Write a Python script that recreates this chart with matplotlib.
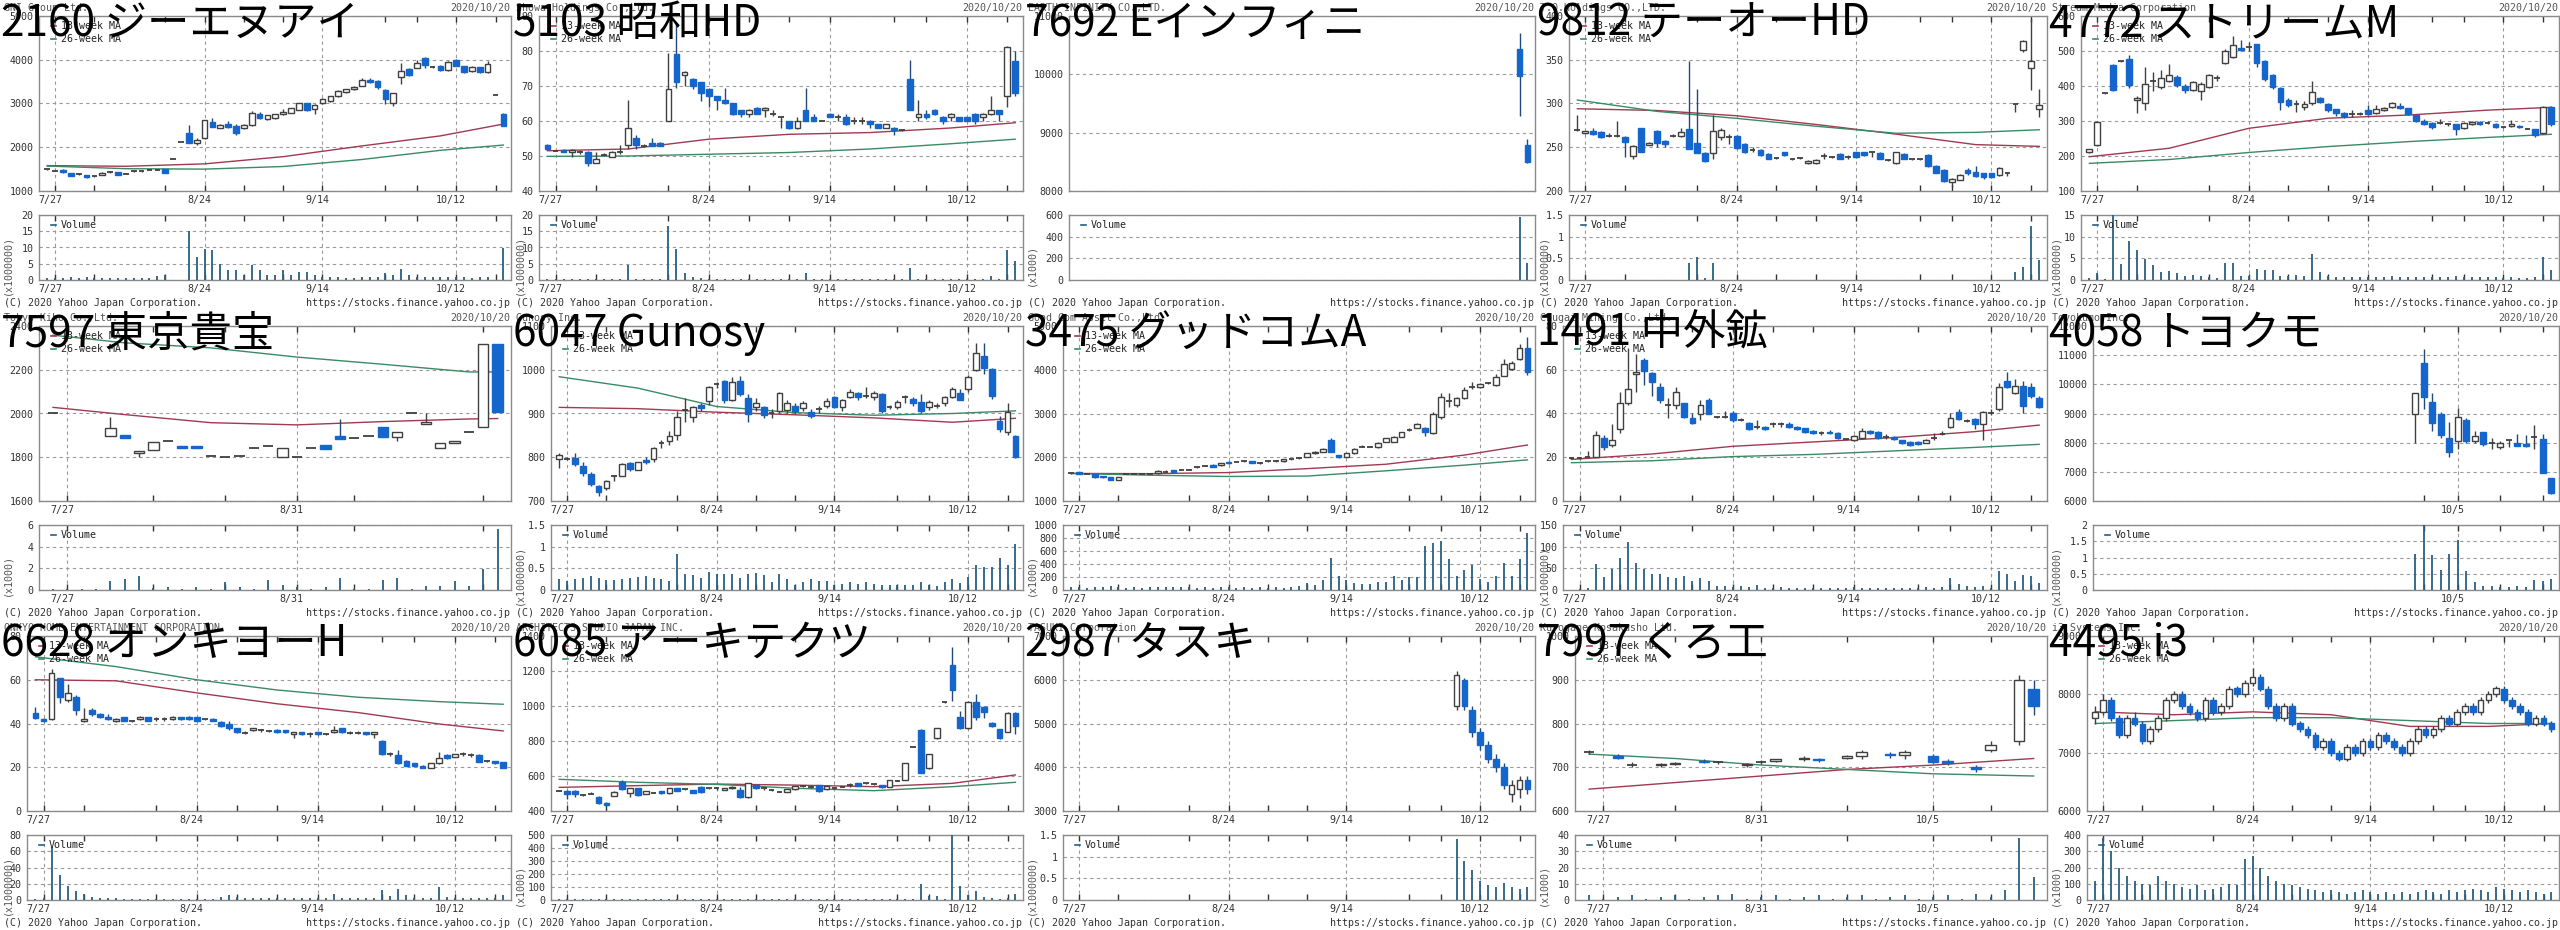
# -*- coding: utf-8 -*-
import matplotlib
matplotlib.use('Agg')
import matplotlib.pyplot as plt
from matplotlib.patches import Rectangle
from matplotlib.lines import Line2D

plt.rcParams['font.family'] = ['DejaVu Sans Mono']

FIG_W, FIG_H = 2560, 930
CELL_W, CELL_H = 512, 310

BLUE = '#1466cc'
UP_EDGE = '#404040'
DOWN_WICK = '#24487a'
MA13_COL = '#a03a50'
MA26_COL = '#3a8a66'
GRID_COL = '#9a9a9a'
SPINE_COL = '#8a8a8a'
VOL_COL = '#2a5f82'
TXT = '#333333'

# 取引日スロット 7/22 .. 10/20 (10/1 は売買停止で除外)
std_days = list(range(59))
std_dates = [(1, '7/27'), (20, '8/24'), (35, '9/14'), (52, '10/12')]
std_weeks = [1, 6, 15, 20, 25, 30, 35, 43, 47, 52, 57]
ma_days = [0, 10, 20, 30, 40, 50, 58]

# ========== 2160 ジーエヌアイ ==========
gni_ohlc = [
    (1495, 1510, 1480, 1495), (1465, 1470, 1460, 1465), (1480, 1500, 1420, 1430), (1400, 1410, 1340, 1350),
    (1390, 1400, 1370, 1390), (1360, 1370, 1300, 1310), (1340, 1350, 1320, 1340), (1370, 1440, 1360, 1420),
    (1425, 1450, 1410, 1425), (1425, 1440, 1360, 1370), (1395, 1400, 1380, 1395), (1450, 1470, 1430, 1450),
    (1450, 1460, 1440, 1450), (1480, 1490, 1470, 1480), (1490, 1495, 1485, 1490), (1500, 1510, 1410, 1420),
    (1720, 1720, 1720, 1720), (2130, 2130, 2130, 2130), (2320, 2510, 2090, 2100), (2100, 2220, 2060, 2170),
    (2200, 2630, 2180, 2620), (2570, 2670, 2460, 2470), (2450, 2530, 2430, 2500), (2520, 2600, 2440, 2460),
    (2490, 2520, 2280, 2330), (2440, 2530, 2420, 2500), (2500, 2830, 2490, 2790), (2770, 2800, 2640, 2660),
    (2640, 2740, 2630, 2730), (2660, 2760, 2650, 2750), (2750, 2880, 2740, 2800), (2790, 2900, 2780, 2890),
    (2860, 3010, 2850, 3000), (3000, 3010, 2830, 2840), (2870, 2990, 2770, 2970), (3000, 3120, 2990, 3100),
    (3050, 3170, 3040, 3160), (3160, 3300, 3150, 3290), (3260, 3330, 3250, 3320), (3320, 3400, 3310, 3380),
    (3410, 3580, 3400, 3540), (3540, 3590, 3460, 3480), (3510, 3530, 3330, 3370), (3310, 3340, 2990, 3100),
    (3020, 3240, 2940, 3230), (3600, 3920, 3440, 3740), (3780, 3800, 3630, 3640), (3820, 4000, 3800, 3920),
    (4050, 4060, 3820, 3880), (3840, 3860, 3800, 3840), (3860, 3880, 3740, 3760), (3760, 3960, 3740, 3950),
    (4000, 4010, 3850, 3860), (3850, 3860, 3690, 3710), (3740, 3860, 3720, 3840), (3830, 3840, 3690, 3720),
    (3720, 3970, 3700, 3900), (3190, 3190, 3190, 3190), (2770, 2790, 2480, 2490)]
gni_vol = [0.5, 0.6, 0.7, 0.8, 0.6, 0.8, 0.5, 0.7, 0.6, 0.7, 0.5, 0.6, 0.7, 0.5, 1.2, 1.5, 0, 0, 15.0, 7.0,
           9.5, 9.3, 5.0, 3.2, 3.2, 1.5, 4.5, 3.2, 1.5, 1.5, 3.0, 1.5, 2.5, 2.5, 1.5, 1.0, 1.0, 0.8, 0.7, 0.7,
           0.8, 0.9, 0.8, 2.0, 1.5, 3.3, 1.5, 1.0, 0.9, 0.9, 0.8, 0.8, 1.0, 0.8, 0.7, 0.8, 1.0, 0, 9.8]
gni_ma13 = [1580, 1565, 1620, 1785, 2030, 2260, 2530]
gni_ma26 = [1570, 1510, 1500, 1560, 1720, 1930, 2050]

# ========== 5103 昭和HD ==========
showa_ohlc = [
    (53, 53.3, 51.8, 52), (51.5, 51.5, 51.5, 51.5), (51.8, 52, 51, 51.1), (51.1, 52, 49.8, 51.8),
    (51.1, 51.8, 50.5, 51.1), (51, 51.5, 47.2, 47.9), (47.9, 51, 47.9, 49), (50.2, 50.8, 50, 50.2),
    (49.8, 51.5, 49.8, 51), (51.1, 53, 50.5, 51.1), (53, 66, 52, 58), (55, 56, 52, 53),
    (52.9, 53.5, 52.5, 52.9), (53.8, 55, 52.9, 52.9), (53.8, 54, 52.9, 52.9), (60, 79.5, 60, 69),
    (79, 88, 69.5, 71), (73, 74.2, 70, 74), (72, 72.2, 69, 70), (71, 71.2, 65.8, 68),
    (69, 69.2, 64, 67), (67, 67.2, 63, 66), (66, 69.5, 64.8, 65), (65, 65.2, 61.8, 62),
    (63, 63.2, 61, 62), (62, 63.5, 61, 63), (63.8, 64, 62, 62), (63, 64, 61, 63.8),
    (62, 63, 61.5, 62), (61, 61, 58, 61), (60, 60, 57.8, 58), (58, 61, 57.8, 60),
    (63, 69.5, 60, 60), (61, 62, 60, 60), (60, 60, 60, 60), (62, 62.2, 61, 61),
    (61, 62, 60, 61), (61, 62, 58.8, 59), (60, 61, 59, 60), (60, 61, 59, 60),
    (60, 60.2, 58, 59), (59, 59.2, 58, 58), (58, 59, 58, 59), (58, 58.2, 56, 57.3),
    (57.3, 57.5, 57, 57.3), (72, 77.5, 63, 63), (61, 66, 60, 62), (62, 63, 60.5, 61),
    (63, 63.5, 61.8, 62), (61, 61.5, 59, 60), (61, 62.3, 60, 62), (61, 61.2, 60, 60),
    (61, 61.2, 60, 60), (62, 62.2, 59, 60), (61, 62.3, 60, 62), (62, 67, 61.8, 63),
    (63, 63.2, 60, 62), (67, 81.5, 64, 81), (77, 80, 67, 68)]
showa_vol = [0.3, 0.3, 0.3, 0.3, 0.3, 0.3, 0.3, 0.3, 0.3, 0.3, 4.5, 0.3, 0.3, 0.3, 0.3, 16.5, 9.5, 2.2, 0.8, 0.5,
             0.3, 0.3, 0.3, 0.3, 0.3, 0.3, 0.3, 0.3, 0.3, 0.3, 0.3, 0.3, 2.0, 0.3, 0.3, 0.3, 0.3, 0.3, 0.3, 0.3,
             0.3, 0.3, 0.3, 0.3, 0.3, 3.8, 0.3, 0.3, 0.3, 0.3, 0.3, 0.3, 0.3, 0.3, 0.3, 1.3, 0.3, 9.3, 5.7]
showa_ma13 = [51.5, 52.0, 54.8, 56.2, 56.7, 58.0, 59.5]
showa_ma26 = [49.9, 50.0, 50.5, 51.0, 52.0, 53.5, 54.8]

# ========== 7692 Eインフィニ ==========
einf_days = [57, 58]
einf_ohlc = [(10430, 10700, 9290, 9970), (8790, 8890, 8480, 8490)]
einf_vol = [578, 156]

# ========== 9812 テーオーHD ==========
teo_ohlc = [
    (270, 287, 268, 270), (266, 268, 265, 268), (268, 272, 264, 265), (267, 268, 261, 262),
    (263, 266, 262, 263), (263, 280, 262, 263), (262, 263, 239, 256), (240, 252, 236, 251),
    (272, 272, 245, 245), (253, 256, 252, 255), (268, 270, 250, 255), (257, 258, 250, 254),
    (263, 265, 262, 263), (263, 272, 262, 267), (271, 348, 248, 248), (255, 317, 243, 243),
    (243, 244, 233, 234), (243, 287, 237, 268), (262, 272, 258, 270), (262, 265, 254, 262),
    (263, 264, 248, 249), (254, 255, 243, 244), (247, 250, 244, 247), (247, 248, 240, 241),
    (242, 243, 236, 237), (238, 239, 236, 238), (244, 245, 240, 241), (236, 237, 235, 236),
    (238, 239, 236, 238), (232, 235, 231, 234), (232, 236, 231, 235), (240, 243, 236, 240),
    (239, 240, 238, 239), (242, 243, 236, 237), (239, 241, 237, 239), (244, 245, 238, 239),
    (244, 245, 240, 241), (244, 244, 239, 244), (243, 244, 236, 237), (235, 236, 234, 235),
    (232, 245, 231, 244), (242, 243, 236, 237), (236, 237, 235, 236), (236, 237, 235, 236),
    (241, 242, 227, 228), (229, 230, 220, 221), (224, 225, 210, 211), (210, 215, 205, 214),
    (213, 219, 212, 218), (224, 226, 218, 220), (222, 229, 216, 217), (220, 221, 214, 216),
    (220, 221, 215, 216), (218, 227, 217, 226), (220, 222, 217, 220), (299, 299, 290, 299),
    (361, 372, 359, 371), (340, 397, 315, 349), (294, 317, 284, 298)]
teo_vol = [0.01] * 14 + [0.4, 0.52, 0.04, 0.4] + [0.01] * 37 + [0.18, 0.3, 1.25, 0.47]
teo_ma13 = [294, 292, 286, 276, 265, 253, 251]
teo_ma26 = [304, 291, 283, 274, 266, 267, 270]

# ========== 4772 ストリームM ==========
stream_ohlc = [
    (210, 221, 208, 219), (230, 300, 228, 298), (379, 380, 378, 379), (460, 462, 385, 388),
    (470, 472, 468, 470), (476, 489, 395, 403), (360, 370, 322, 365), (350, 455, 331, 407),
    (414, 440, 385, 414), (396, 445, 390, 422), (415, 462, 410, 432), (425, 430, 398, 403),
    (400, 405, 380, 388), (388, 415, 385, 410), (387, 412, 360, 406), (396, 435, 393, 430),
    (422, 432, 415, 422), (465, 505, 462, 500), (482, 543, 480, 517), (508, 530, 500, 503),
    (510, 525, 500, 510), (519, 520, 455, 465), (470, 475, 415, 420), (431, 435, 392, 396),
    (393, 396, 330, 355), (360, 365, 340, 345), (349, 360, 325, 349), (339, 358, 330, 349),
    (350, 414, 345, 384), (365, 368, 352, 355), (349, 351, 325, 331), (333, 335, 315, 322),
    (322, 325, 308, 314), (320, 330, 312, 320), (320, 325, 318, 320), (331, 345, 318, 319),
    (322, 345, 320, 335), (330, 340, 328, 336), (339, 355, 337, 350), (343, 350, 334, 336),
    (336, 338, 318, 319), (317, 318, 298, 301), (301, 305, 289, 291), (295, 297, 278, 282),
    (295, 305, 290, 295), (291, 295, 287, 291), (291, 292, 260, 276), (279, 296, 277, 293),
    (291, 300, 289, 298), (298, 300, 289, 291), (295, 299, 292, 295), (291, 293, 279, 284),
    (282, 284, 280, 282), (286, 302, 284, 291), (286, 288, 280, 282), (278, 280, 276, 278),
    (276, 278, 255, 260), (265, 342, 262, 339), (341, 343, 285, 291)]
stream_vol = [0.5, 1.5, 0.3, 15, 3.8, 9, 7, 4.8, 3.5, 1.8, 2, 1.5, 1, 1.2, 1, 0.8, 0.5, 4, 4, 1,
              1, 2.6, 2.3, 2.2, 1, 1, 1.2, 0.9, 5.9, 1.8, 1, 0.8, 0.7, 0.7, 0.6, 0.8, 0.8, 0.7, 1, 0.8,
              0.7, 0.8, 0.8, 0.8, 0.7, 0.6, 1, 0.7, 0.7, 0.6, 0.6, 0.6, 0.5, 0.6, 0.5, 0.5, 0.7, 5.2, 2.2]
stream_ma13 = [198, 222, 279, 308, 317, 331, 339]
stream_ma26 = [179, 190, 210, 227, 241, 253, 262]

# ========== 7597 東京貴宝 (出来た日だけのスロット) ==========
kiho_days = [0] + list(range(4, 32))
kiho_ohlc = [
    (2000, 2000, 2000, 2000), (1898, 1982, 1898, 1932), (1900, 1900, 1889, 1889), (1818, 1827, 1800, 1827),
    (1833, 1871, 1833, 1871), (1873, 1873, 1873, 1873), (1850, 1850, 1843, 1843), (1850, 1850, 1843, 1843),
    (1807, 1807, 1807, 1807), (1800, 1800, 1800, 1800), (1804, 1804, 1804, 1804), (1840, 1840, 1840, 1840),
    (1851, 1851, 1851, 1851), (1800, 1840, 1800, 1840), (1800, 1800, 1800, 1800), (1840, 1840, 1840, 1840),
    (1857, 1857, 1836, 1836), (1895, 1975, 1885, 1885), (1886, 1886, 1886, 1886), (1898, 1898, 1898, 1898),
    (1937, 1937, 1894, 1894), (1894, 1917, 1876, 1917), (2000, 2000, 2000, 2000), (1950, 2000, 1950, 1960),
    (1840, 1863, 1840, 1863), (1863, 1876, 1863, 1876), (1914, 1914, 1914, 1914), (1940, 2317, 1940, 2317),
    (2317, 2317, 2008, 2008)]
kiho_vol_days = list(range(32))
kiho_vol = [0.05, 0.1, 0.1, 0.1, 0.8, 1.0, 1.3, 0.15, 0.3, 0.1, 0.3, 0.1, 0.7, 0.3, 0.1, 0.9,
            0.5, 0.3, 0.1, 0.3, 1.1, 0.1, 0.1, 0.9, 1.1, 0.1, 0.4, 0.4, 0.8, 0.4, 1.9, 5.6]
kiho_ma_days = [0, 5, 11, 17, 23, 29, 31]
kiho_ma13 = [2028, 1995, 1958, 1948, 1963, 1975, 1977]
kiho_ma26 = [2358, 2323, 2300, 2258, 2225, 2190, 2190]
kiho_dates = [(1, '7/27'), (17, '8/31')]
kiho_weeks = [1, 7, 12, 17, 21, 30]

# ========== 6047 Gunosy ==========
gunosy_ohlc = [
    (796, 810, 775, 804), (797, 800, 794, 797), (799, 810, 780, 784), (781, 790, 758, 763),
    (762, 766, 735, 739), (734, 736, 712, 721), (729, 748, 725, 746), (758, 760, 745, 758),
    (758, 787, 756, 785), (786, 788, 768, 773), (771, 790, 770, 788), (793, 800, 785, 789),
    (796, 824, 790, 822), (832, 840, 820, 832), (837, 860, 828, 849), (851, 905, 840, 891),
    (908, 935, 880, 908), (891, 918, 880, 916), (919, 925, 905, 912), (929, 962, 920, 960),
    (967, 972, 958, 967), (974, 976, 925, 931), (932, 984, 928, 971), (974, 985, 940, 945),
    (935, 945, 880, 898), (914, 935, 905, 923), (914, 918, 890, 896), (900, 910, 890, 900),
    (906, 948, 900, 946), (908, 930, 900, 925), (918, 925, 898, 906), (913, 928, 905, 925),
    (904, 910, 890, 894), (910, 918, 900, 910), (918, 935, 912, 929), (937, 940, 912, 916),
    (914, 933, 905, 931), (938, 955, 935, 950), (946, 950, 930, 937), (940, 960, 935, 940),
    (938, 952, 930, 948), (944, 946, 900, 906), (915, 920, 910, 915), (915, 930, 910, 927),
    (937, 942, 925, 937), (934, 937, 918, 923), (927, 945, 900, 906), (915, 930, 908, 927),
    (918, 925, 912, 918), (925, 940, 918, 937), (937, 960, 935, 957), (947, 955, 930, 930),
    (956, 987, 950, 984), (1000, 1060, 998, 1039), (1032, 1060, 990, 1004), (1001, 1003, 932, 940),
    (883, 895, 858, 864), (857, 925, 850, 903), (848, 850, 798, 800)]
gunosy_vol = [0.25, 0.2, 0.25, 0.27, 0.33, 0.27, 0.22, 0.22, 0.25, 0.28, 0.3, 0.33, 0.28, 0.25, 0.2, 0.82,
              0.37, 0.35, 0.28, 0.42, 0.37, 0.38, 0.38, 0.28, 0.38, 0.4, 0.35, 0.18, 0.36, 0.25, 0.12, 0.18,
              0.25, 0.2, 0.2, 0.12, 0.15, 0.18, 0.15, 0.18, 0.15, 0.12, 0.12, 0.12, 0.12, 0.12, 0.18, 0.12,
              0.1, 0.18, 0.26, 0.17, 0.3, 0.57, 0.52, 0.52, 0.75, 0.57, 1.07]
gunosy_ma13 = [914, 911, 903, 897, 890, 880, 889]
gunosy_ma26 = [984, 958, 916, 902, 896, 900, 906]

# ========== 3475 グッドコムA ==========
goodcom_ohlc = [
    (1630, 1640, 1620, 1630), (1655, 1665, 1615, 1620), (1620, 1625, 1615, 1620), (1620, 1625, 1530, 1540),
    (1570, 1575, 1535, 1540), (1555, 1560, 1470, 1480), (1480, 1560, 1475, 1555), (1620, 1625, 1615, 1620),
    (1620, 1625, 1615, 1620), (1620, 1625, 1615, 1620), (1620, 1625, 1615, 1620), (1630, 1700, 1625, 1690),
    (1670, 1700, 1660, 1670), (1710, 1715, 1660, 1670), (1720, 1740, 1700, 1720), (1720, 1725, 1715, 1720),
    (1770, 1775, 1765, 1770), (1810, 1815, 1800, 1810), (1830, 1835, 1780, 1785), (1815, 1865, 1810, 1860),
    (1900, 1905, 1855, 1860), (1890, 1895, 1885, 1890), (1905, 1920, 1890, 1905), (1905, 1910, 1870, 1875),
    (1880, 1900, 1850, 1880), (1905, 1910, 1900, 1905), (1915, 1930, 1900, 1915), (1905, 1955, 1900, 1950),
    (1950, 1955, 1945, 1950), (1975, 1980, 1970, 1975), (2000, 2100, 1995, 2090), (2090, 2140, 2080, 2130),
    (2130, 2210, 2120, 2200), (2390, 2450, 2120, 2130), (2050, 2060, 1990, 2000), (2010, 2100, 2000, 2090),
    (2090, 2210, 2080, 2200), (2240, 2270, 2230, 2240), (2240, 2250, 2230, 2240), (2230, 2340, 2220, 2330),
    (2360, 2440, 2350, 2430), (2360, 2480, 2350, 2470), (2470, 2580, 2460, 2570), (2620, 2680, 2600, 2620),
    (2680, 2790, 2670, 2770), (2680, 2700, 2480, 2580), (2560, 3030, 2540, 2990), (2930, 3480, 2880, 3380),
    (3290, 3460, 3150, 3290), (3190, 3380, 3150, 3350), (3350, 3600, 3330, 3540), (3600, 3720, 3550, 3600),
    (3600, 3690, 3580, 3670), (3690, 3720, 3680, 3690), (3650, 3900, 3620, 3840), (3860, 4250, 3850, 4130),
    (4010, 4200, 4000, 4160), (4240, 4600, 4230, 4490), (4490, 4760, 3870, 3960)]
goodcom_vol = [40, 50, 30, 50, 40, 60, 40, 30, 40, 30, 40, 50, 40, 50, 40, 40, 30, 40, 30, 40,
               40, 30, 40, 30, 40, 30, 40, 30, 40, 60, 110, 80, 160, 490, 220, 160, 110, 100, 90, 120,
               130, 210, 150, 200, 200, 670, 730, 760, 470, 220, 310, 380, 170, 130, 220, 420, 220, 480, 880]
goodcom_ma13 = [1630, 1625, 1650, 1740, 1840, 2050, 2280]
goodcom_ma26 = [1630, 1590, 1560, 1570, 1690, 1820, 1940]

# ========== 1491 中外鉱 ==========
chugai_ohlc = [
    (19.5, 20, 19, 19.5), (19.5, 20, 19, 19.5), (20.3, 23, 20, 20.3), (20.3, 32, 20, 30),
    (28.8, 30, 23.5, 24.8), (25.6, 35, 24.5, 27.9), (32.8, 50, 31, 44.6), (44.6, 70, 44, 51),
    (58, 67, 50, 59), (64.5, 65.5, 53, 59.6), (58.4, 59, 48, 54.6), (52, 54, 45, 46),
    (43.9, 47, 38, 43.9), (43.9, 52, 42, 50), (44.6, 45, 38, 38.6), (37.8, 40, 35, 35.8),
    (40, 46, 37, 43.9), (46.2, 47, 40, 40), (38.6, 39, 38, 38.6), (38.6, 41, 38, 38.6),
    (40, 41, 36, 37), (37, 38, 36.5, 37), (35.8, 36, 32.5, 32.8), (33.7, 37, 33, 33.7),
    (34, 34.5, 32.5, 33), (35, 36, 34, 35), (35, 36, 34, 35), (35.2, 36, 33.5, 33.7),
    (34, 34.5, 32.5, 33), (33.2, 33.5, 31, 31.7), (32.2, 32.5, 30.5, 30.9), (31.2, 32, 30, 31.2),
    (31.7, 32.5, 30.5, 30.9), (31.2, 31.5, 28.3, 28.6), (28.2, 28.5, 28, 28.2), (27.9, 30, 27.5, 29.7),
    (28.6, 33.5, 28.3, 32.2), (32, 32.5, 30.5, 30.9), (31.7, 32, 28.3, 28.6), (29.4, 30.5, 28.5, 29.4),
    (29.4, 29.8, 27.8, 28.2), (27.9, 28, 26.2, 26.7), (27, 27.3, 25, 25.6), (27, 27.3, 25.5, 25.9),
    (26.7, 28.5, 26.5, 27.9), (29, 31, 28, 29), (30.6, 32, 30, 30.6), (33.7, 40, 33.5, 37.8),
    (40.8, 42, 37, 37.3), (36.7, 37.5, 36, 36.7), (37.3, 38, 33, 35.2), (35.2, 41, 28, 40.8),
    (40, 42, 39.5, 40), (41.9, 54, 41, 52), (55, 59, 51.5, 52), (49.5, 56, 49, 52.6),
    (52.6, 55, 40, 43.4), (52, 54, 47, 48), (47, 48, 42.5, 42.8)]
chugai_vol = [1, 2, 5, 60, 30, 48, 75, 110, 62, 48, 37, 36, 30, 28, 32, 20, 27, 20, 10, 10,
              8, 10, 8, 12, 5, 5, 6, 5, 4, 5, 5, 4, 5, 4, 5, 6, 5, 4, 5, 4,
              5, 4, 5, 4, 6, 5, 6, 28, 15, 10, 8, 10, 5, 44, 37, 20, 35, 33, 17]
chugai_ma13 = [19.0, 21.5, 25.0, 27.0, 29.0, 31.7, 34.7]
chugai_ma26 = [17.5, 18.4, 20.3, 21.3, 22.9, 24.5, 25.9]

# ========== 4058 トヨクモ ==========
toyokumo_days = list(range(17))
toyokumo_ohlc = [
    (9000, 9690, 7980, 9690), (10740, 11200, 9170, 9550), (9380, 9720, 8400, 8690), (9000, 9050, 8150, 8260),
    (8150, 8700, 7500, 7690), (8070, 9200, 7800, 8890), (8780, 8850, 8000, 8070), (8070, 8400, 8000, 8230),
    (8350, 8380, 7900, 7940), (7980, 8150, 7780, 7980), (7840, 8050, 7800, 7980), (8090, 8100, 7850, 8090),
    (7980, 8300, 7900, 7900), (7950, 8250, 7860, 7880), (8180, 8600, 7800, 8180), (8130, 8300, 6950, 6970),
    (6780, 6800, 6250, 6290)]
toyokumo_vol = [1.12, 2.0, 1.08, 0.63, 1.12, 1.55, 0.57, 0.25, 0.13, 0.13, 0.1, 0.1, 0.12, 0.1, 0.32, 0.28, 0.35]
toyokumo_dates = [(5, '10/5')]
toyokumo_weeks = [1, 5, 10, 15]

# ========== 6628 オンキヨーH ==========
onkyo_ohlc = [
    (44.6, 47.5, 42, 42.7), (42, 42.5, 40.5, 41), (42, 65, 41.5, 63), (60.6, 61, 49.5, 52),
    (50.7, 58, 50, 53.8), (52, 53, 44, 46.2), (41, 47, 40.5, 42), (46.2, 47, 43.5, 44.3),
    (44.5, 45, 42.5, 43.1), (43.1, 44.5, 41.5, 41.9), (41, 42.5, 40.5, 42), (42.8, 43, 41, 41.1),
    (41.1, 41.5, 40.8, 41.1), (42, 43.5, 41.5, 43.1), (42.8, 43, 41, 41.1), (42, 43, 41, 42),
    (42, 43, 41, 42), (42, 43.5, 41.5, 43.1), (42.8, 43, 41.8, 42), (42.8, 43.5, 41.8, 42),
    (42.8, 43, 41, 41.1), (41.9, 42.2, 41.5, 41.9), (41.9, 42.5, 41, 41.1), (40.8, 41, 38.5, 38.9),
    (40, 41, 37, 37.8), (37.8, 38, 35.5, 36), (35.8, 36.5, 35, 35.8), (37, 38, 36.5, 37.8),
    (37, 37.5, 36, 37), (36.7, 37, 36, 36.7), (37, 37.3, 35.8, 36), (37, 37.2, 35.8, 36),
    (35, 36.2, 33.5, 36), (36, 36.2, 34.8, 35), (35, 36, 34, 35), (36.1, 36.3, 34.8, 35),
    (35, 35.5, 34.8, 35), (36, 39, 35.8, 37), (37.8, 38, 35.8, 36), (35.8, 36.5, 35, 35.8),
    (35.8, 36.5, 35, 35.8), (36, 36.2, 34.8, 35), (35, 36.2, 33.5, 36), (32.2, 32.5, 25.5, 25.9),
    (25.9, 27, 25, 25.9), (25.6, 28, 21.5, 21.8), (22.9, 23.5, 20.5, 20.7), (21.8, 22, 20.5, 20.7),
    (20.7, 21, 19.5, 19.8), (19.8, 22, 19.5, 21.8), (21.8, 27, 21.5, 24.1), (25.6, 26, 24, 24.1),
    (24.8, 26.2, 24.5, 25.9), (25.9, 27, 25, 25.9), (25.6, 26.5, 24.5, 25.6), (25.6, 26, 22.5, 22.6),
    (22.9, 23.5, 22.5, 22.9), (22.9, 23, 21.5, 21.8), (22.2, 22.5, 19.5, 19.8)]
onkyo_vol = [1.5, 2.5, 65, 31, 17, 11, 7, 4, 2, 2, 2, 1.5, 1.5, 1.5, 1.5, 1.5, 1.5, 1.5, 1.5, 1.5,
             1.5, 1.5, 1.5, 4, 6, 4, 2, 2, 2, 2, 2, 2, 2, 2, 2, 2, 2, 8, 3, 2,
             2, 2, 2, 12, 5, 13, 6, 3, 2, 3, 16, 4, 2, 2, 2, 3, 2, 2, 6]
onkyo_ma13 = [60, 59.5, 54, 49, 45, 39.8, 36.6]
onkyo_ma26 = [70.5, 66, 60, 55.3, 52, 50, 48.8]

# ========== 6085 アーキテクツ ==========
asj_ohlc = [
    (516, 520, 512, 516), (516, 520, 470, 497), (516, 518, 480, 497), (491, 495, 488, 491),
    (497, 510, 495, 497), (482, 485, 440, 448), (448, 450, 428, 432), (488, 512, 486, 510),
    (564, 580, 520, 524), (501, 532, 480, 530), (530, 532, 488, 491), (497, 516, 495, 514),
    (505, 508, 502, 505), (514, 516, 499, 501), (501, 532, 499, 530), (530, 532, 513, 516),
    (524, 527, 521, 524), (520, 522, 503, 505), (539, 541, 505, 510), (530, 533, 527, 530),
    (530, 540, 520, 530), (520, 532, 518, 530), (530, 541, 528, 539), (520, 540, 476, 478),
    (478, 560, 476, 558), (548, 550, 528, 530), (530, 540, 520, 530), (520, 523, 517, 520),
    (510, 513, 507, 510), (508, 526, 506, 524), (524, 545, 522, 543), (543, 546, 540, 543),
    (539, 548, 530, 539), (548, 550, 510, 516), (524, 545, 522, 543), (530, 533, 527, 530),
    (539, 542, 536, 539), (548, 560, 540, 548), (558, 560, 541, 543), (558, 561, 555, 558),
    (554, 557, 551, 554), (548, 550, 533, 535), (539, 579, 537, 577), (573, 576, 570, 573),
    (577, 674, 575, 672), (768, 771, 765, 768), (863, 866, 617, 619), (644, 726, 642, 724),
    (819, 874, 812, 872), (1023, 1026, 1020, 1023), (1234, 1340, 1030, 1092), (939, 970, 868, 872),
    (872, 1027, 870, 1025), (1025, 1070, 920, 939), (992, 1000, 930, 964), (905, 908, 880, 886),
    (867, 870, 812, 815), (853, 964, 851, 962), (962, 965, 840, 886)]
asj_vol = [5, 8, 5, 6, 5, 8, 6, 5, 7, 5, 6, 5, 5, 6, 5, 6, 5, 5, 6, 5,
           5, 6, 5, 7, 8, 5, 6, 5, 5, 6, 5, 5, 6, 5, 6, 5, 5, 6, 5, 5,
           6, 5, 8, 6, 10, 8, 125, 30, 30, 10, 500, 110, 35, 70, 20, 15, 10, 15, 50]
asj_ma13 = [535, 545, 554, 548, 539, 558, 606]
asj_ma26 = [581, 564, 552, 530, 516, 539, 564]

# ========== 2987 タスキ ==========
tasuki_days = list(range(49, 59))
tasuki_ohlc = [
    (5400, 6200, 5300, 6100), (6000, 6050, 5300, 5400), (5300, 5400, 4700, 4800), (4800, 4900, 4400, 4500),
    (4500, 4600, 4100, 4200), (4200, 4300, 3900, 4000), (4000, 4100, 3500, 3600), (3400, 3700, 3200, 3600),
    (3500, 3800, 3300, 3700), (3700, 3800, 3400, 3500)]
tasuki_vol = [1.4, 0.9, 0.7, 0.45, 0.35, 0.3, 0.4, 0.3, 0.25, 0.3]

# ========== 7997 くろ工 ==========
kuro_days = [0, 2, 3, 5, 6, 8, 9, 11, 12, 13, 15, 16, 18, 19, 21, 22, 24, 25, 27, 28, 30, 31]
kuro_ohlc = [
    (735, 740, 730, 735), (725, 730, 720, 722), (705, 712, 700, 705), (705, 710, 700, 708),
    (708, 712, 705, 710), (715, 718, 710, 712), (712, 715, 708, 712), (705, 710, 700, 708),
    (712, 716, 708, 712), (715, 720, 712, 718), (720, 725, 715, 722), (718, 722, 712, 716),
    (722, 728, 718, 725), (725, 740, 720, 735), (730, 735, 722, 728), (728, 740, 720, 735),
    (725, 730, 710, 712), (715, 720, 705, 710), (700, 705, 690, 695), (740, 760, 735, 750),
    (760, 910, 750, 900), (880, 900, 820, 840)]
kuro_vol_days = list(range(32))
kuro_vol = [3, 0.5, 2, 3, 0.5, 2, 3, 0.5, 2, 3, 4, 0.5, 2, 3, 0.5, 2, 3, 0.5, 2, 3, 0.5, 2, 3, 0.5,
            2, 3, 0.5, 4, 2, 6, 38, 14]
kuro_ma_days = [0, 6, 12, 18, 24, 31]
kuro_ma13 = [650, 665, 680, 695, 705, 720]
kuro_ma26 = [730, 720, 705, 695, 685, 680]
kuro_dates = [(1, '7/27'), (12, '8/31'), (24, '10/5')]
kuro_weeks = [1, 6, 12, 18, 24, 28]

# ========== 4495 i3 ==========
i3_ohlc = [
    (7600, 7800, 7500, 7700), (7700, 8000, 7650, 7900), (7900, 7950, 7550, 7600), (7600, 7650, 7250, 7300),
    (7300, 7650, 7250, 7600), (7600, 7700, 7450, 7500), (7500, 7550, 7150, 7200), (7200, 7450, 7150, 7400),
    (7400, 7650, 7350, 7600), (7600, 7950, 7550, 7900), (7900, 8050, 7850, 8000), (8000, 8050, 7750, 7800),
    (7800, 7850, 7650, 7700), (7700, 7750, 7550, 7600), (7600, 7950, 7550, 7900), (7900, 7950, 7650, 7700),
    (7700, 7850, 7650, 7800), (7800, 8150, 7750, 8100), (8100, 8150, 7950, 8000), (8000, 8250, 7950, 8200),
    (8200, 8450, 8150, 8300), (8300, 8350, 8050, 8100), (8100, 8150, 7750, 7800), (7800, 7850, 7550, 7600),
    (7600, 7850, 7550, 7800), (7800, 7850, 7450, 7500), (7500, 7550, 7350, 7400), (7400, 7450, 7250, 7300),
    (7300, 7350, 7050, 7100), (7100, 7250, 7050, 7200), (7200, 7250, 6950, 7000), (7000, 7050, 6850, 6900),
    (6900, 7150, 6850, 7100), (7100, 7150, 6950, 7000), (7000, 7250, 6950, 7200), (7200, 7250, 7050, 7100),
    (7100, 7350, 7050, 7300), (7300, 7350, 7150, 7200), (7200, 7250, 7050, 7100), (7100, 7150, 6950, 7000),
    (7000, 7250, 6950, 7200), (7200, 7450, 7150, 7400), (7400, 7450, 7250, 7300), (7300, 7450, 7250, 7400),
    (7400, 7650, 7350, 7600), (7600, 7650, 7450, 7500), (7500, 7750, 7450, 7700), (7700, 7850, 7650, 7800),
    (7800, 7850, 7650, 7700), (7700, 7950, 7650, 7900), (7900, 8050, 7850, 8000), (8000, 8150, 7950, 8100),
    (8100, 8150, 7850, 7900), (7900, 7950, 7750, 7800), (7800, 7850, 7650, 7700), (7700, 7750, 7450, 7500),
    (7500, 7650, 7450, 7600), (7600, 7650, 7450, 7500), (7500, 7550, 7350, 7400)]
i3_vol = [120, 380, 300, 200, 150, 120, 100, 90, 150, 120, 100, 80, 70, 90, 60, 70, 80, 100, 90, 250,
          270, 200, 150, 120, 100, 90, 80, 70, 60, 50, 60, 50, 40, 50, 60, 50, 40, 50, 40, 50,
          40, 50, 60, 50, 40, 60, 50, 60, 70, 60, 50, 80, 70, 60, 50, 60, 50, 40, 50]
i3_ma13 = [7700, 7650, 7700, 7650, 7450, 7450, 7500]
i3_ma26 = [7500, 7550, 7600, 7600, 7550, 7500, 7500]


def ptxt(x, y, s, **kw):
    # ピクセル座標 (左上原点) でテキスト
    return fig.text(x / FIG_W, 1 - y / FIG_H, s, **kw)


def pline(x1, x2, y, color):
    fig.add_artist(Line2D([x1 / FIG_W, x2 / FIG_W], [1 - y / FIG_H, 1 - y / FIG_H],
                          transform=fig.transFigure, color=color, lw=1.2))


def fmt(v):
    return ('%g' % round(v, 6))


def draw_candles(ax, days, ohlc, bw):
    for x, (o, h, l, c) in zip(days, ohlc):
        up = c >= o
        wick = UP_EDGE if up else DOWN_WICK
        ax.vlines(x, l, h, color=wick, lw=1, zorder=2)
        if o == c:
            ax.hlines(o, x - bw / 2, x + bw / 2, color=wick, lw=1.3, zorder=3)
        else:
            ax.add_patch(Rectangle((x - bw / 2, min(o, c)), bw, abs(c - o),
                                   facecolor='white' if up else BLUE,
                                   edgecolor=UP_EDGE if up else BLUE, lw=1, zorder=3))


def style_axes(ax, xlim, ylim, yticks, weeks, dates, label_dy):
    ax.set_xlim(*xlim)
    ax.set_ylim(*ylim)
    ax.set_yticks(yticks)
    ax.set_yticklabels([fmt(v) for v in yticks])
    ax.tick_params(axis='y', length=0, pad=4, labelsize=7.2, labelcolor=TXT)
    ax.set_xticks(weeks)
    ax.tick_params(axis='x', direction='in', length=4, width=1, color='#333333',
                   top=True, bottom=True, labelbottom=False)
    ax.grid(axis='y', linestyle=(0, (3, 3)), color=GRID_COL, lw=0.8)
    for d, lab in dates:
        ax.axvline(d, linestyle=(0, (3, 3)), color=GRID_COL, lw=0.8, zorder=1)
        ax.annotate(lab, xy=(d, 0), xycoords=('data', 'axes fraction'), xytext=(-5, -label_dy),
                    textcoords='offset pixels', ha='center', va='center', fontsize=7.2, color=TXT,
                    annotation_clip=False)
    for sp in ax.spines.values():
        sp.set_color(SPINE_COL)
        sp.set_linewidth(1)


def draw_panel(row, col, title, company, days, ohlc, vol, ylim, ystep, vlim, vstep, vunit,
               vol_days=None, xlim=(-1.05, 58.97), dates=std_dates, weeks=std_weeks,
               ma13=None, ma26=None, ma_x=ma_days, bw=0.72):
    x0, y0 = col * CELL_W, row * CELL_H
    yticks = []
    v = ylim[0]
    while v <= ylim[1] + 1e-9:
        yticks.append(v)
        v += ystep
    ndig = max(len(fmt(t)) for t in yticks)
    left = 15 + 6 * ndig
    l_px, r_px = x0 + left, x0 + 511

    # 株価パネル
    ax = fig.add_axes([l_px / FIG_W, 1 - (y0 + 191) / FIG_H, (r_px - l_px) / FIG_W, 175 / FIG_H])
    style_axes(ax, xlim, ylim, yticks, weeks, dates, 9)
    if ma13 is not None:
        ax.plot(ma_x, ma13, color=MA13_COL, lw=1, zorder=2)
        ax.plot(ma_x, ma26, color=MA26_COL, lw=1, zorder=2)
    draw_candles(ax, days, ohlc, bw)

    # 出来高パネル
    vticks = []
    v = vlim[0]
    while v <= vlim[1] + 1e-9:
        vticks.append(v)
        v += vstep
    axv = fig.add_axes([l_px / FIG_W, 1 - (y0 + 280) / FIG_H, (r_px - l_px) / FIG_W, 65 / FIG_H])
    style_axes(axv, xlim, vlim, vticks, weeks, dates, 9)
    axv.vlines(vol_days if vol_days is not None else days, 0, vol, color=VOL_COL, lw=1.3, zorder=3)

    # 凡例
    if ma13 is not None:
        pline(l_px + 12, l_px + 17, y0 + 26, MA13_COL)
        ptxt(l_px + 22, y0 + 26, '13-week MA', fontsize=7.2, color='#222222', va='center')
        pline(l_px + 12, l_px + 17, y0 + 39, MA26_COL)
        ptxt(l_px + 22, y0 + 39, '26-week MA', fontsize=7.2, color='#222222', va='center')
    pline(l_px + 12, l_px + 17, y0 + 225, VOL_COL)
    ptxt(l_px + 22, y0 + 225, 'Volume', fontsize=7.2, color='#222222', va='center')

    # 周辺テキスト
    ptxt(x0 + 4, y0 + 8, company, fontsize=7.2, color='#555555', va='center')
    ptxt(x0 + 510, y0 + 8, '2020/10/20', fontsize=7.2, color='#555555', va='center', ha='right')
    ptxt(x0 + 7, y0 + 265, vunit, fontsize=7.2, color='#555555', va='center', ha='center', rotation=90)
    ptxt(x0 + 4, y0 + 303, '(C) 2020 Yahoo Japan Corporation.', fontsize=7.2, color=TXT, va='center')
    ptxt(x0 + 510, y0 + 303, 'https://stocks.finance.yahoo.co.jp', fontsize=7.2, color=TXT,
         va='center', ha='right')
    # 大きいタイトル
    ptxt(x0 + 1, y0 + 36, title, fontsize=30.5, color='black', va='baseline',
         family=['Noto Sans CJK JP', 'DejaVu Sans'], zorder=10)


fig = plt.figure(figsize=(FIG_W / 100, FIG_H / 100), dpi=100)
fig.patch.set_facecolor('white')

M6, K3 = '(x1000000)', '(x1000)'

draw_panel(0, 0, '2160 ジーエヌアイ', 'GNI Group Ltd.', std_days, gni_ohlc, gni_vol,
           (1000, 5000), 1000, (0, 20), 5, M6, ma13=gni_ma13, ma26=gni_ma26)
draw_panel(0, 1, '5103 昭和HD', 'Showa Holdings Co.,Ltd.', std_days, showa_ohlc, showa_vol,
           (40, 90), 10, (0, 20), 5, M6, ma13=showa_ma13, ma26=showa_ma26)
draw_panel(0, 2, '7692 Eインフィニ', 'EARTH INFINITY CO.,LTD.', einf_days, einf_ohlc, einf_vol,
           (8000, 11000), 1000, (0, 600), 200, K3, dates=[], weeks=[])
draw_panel(0, 3, '9812 テーオーHD', 'T.O.Holdings CO.,LTD.', std_days, teo_ohlc, teo_vol,
           (200, 400), 50, (0, 1.5), 0.5, M6, ma13=teo_ma13, ma26=teo_ma26)
draw_panel(0, 4, '4772 ストリームM', 'Stream Media Corporation', std_days, stream_ohlc, stream_vol,
           (100, 600), 100, (0, 15), 5, M6, ma13=stream_ma13, ma26=stream_ma26)

draw_panel(1, 0, '7597 東京貴宝', 'Tokyo Kiho Co.,Ltd.', kiho_days, kiho_ohlc, kiho_vol,
           (1600, 2400), 200, (0, 6), 2, K3, vol_days=kiho_vol_days, xlim=(-0.98, 31.93),
           dates=kiho_dates, weeks=kiho_weeks, ma13=kiho_ma13, ma26=kiho_ma26, ma_x=kiho_ma_days)
draw_panel(1, 1, '6047 Gunosy', 'Gunosy Inc.', std_days, gunosy_ohlc, gunosy_vol,
           (700, 1100), 100, (0, 1.5), 0.5, M6, ma13=gunosy_ma13, ma26=gunosy_ma26)
draw_panel(1, 2, '3475 グッドコムA', 'Good Com Asset Co.,Ltd.', std_days, goodcom_ohlc, goodcom_vol,
           (1000, 5000), 1000, (0, 1000), 200, K3, ma13=goodcom_ma13, ma26=goodcom_ma26)
draw_panel(1, 3, '1491 中外鉱', 'Chugai Mining Co.,Ltd.', std_days, chugai_ohlc, chugai_vol,
           (0, 80), 20, (0, 150), 50, M6, ma13=chugai_ma13, ma26=chugai_ma26)
draw_panel(1, 4, '4058 トヨクモ', 'Toyokumo Inc.', toyokumo_days, toyokumo_ohlc, toyokumo_vol,
           (6000, 12000), 1000, (0, 2), 0.5, M6, xlim=(-37.9, 16.9),
           dates=toyokumo_dates, weeks=toyokumo_weeks, bw=0.7)

draw_panel(2, 0, '6628 オンキヨーH', 'ONKYO HOME ENTERTAINMENT CORPORATION', std_days, onkyo_ohlc, onkyo_vol,
           (0, 80), 20, (0, 80), 20, M6, ma13=onkyo_ma13, ma26=onkyo_ma26)
draw_panel(2, 1, '6085 アーキテクツ', 'ARCHITECTS STUDIO JAPAN INC.', std_days, asj_ohlc, asj_vol,
           (400, 1400), 200, (0, 500), 100, K3, ma13=asj_ma13, ma26=asj_ma26)
draw_panel(2, 2, '2987 タスキ', 'TASUKI Corporation', tasuki_days, tasuki_ohlc, tasuki_vol,
           (3000, 7000), 1000, (0, 1.5), 0.5, M6)
draw_panel(2, 3, '7997 くろ工', 'Kurogane Kosakusho Ltd.', kuro_days, kuro_ohlc, kuro_vol,
           (600, 1000), 100, (0, 40), 10, K3, vol_days=kuro_vol_days, xlim=(-0.98, 31.93),
           dates=kuro_dates, weeks=kuro_weeks, ma13=kuro_ma13, ma26=kuro_ma26, ma_x=kuro_ma_days)
draw_panel(2, 4, '4495 i3', 'i3 Systems,Inc.', std_days, i3_ohlc, i3_vol,
           (6000, 9000), 1000, (0, 400), 100, K3, ma13=i3_ma13, ma26=i3_ma26)

fig.savefig('out.png', dpi=100, facecolor='white')
